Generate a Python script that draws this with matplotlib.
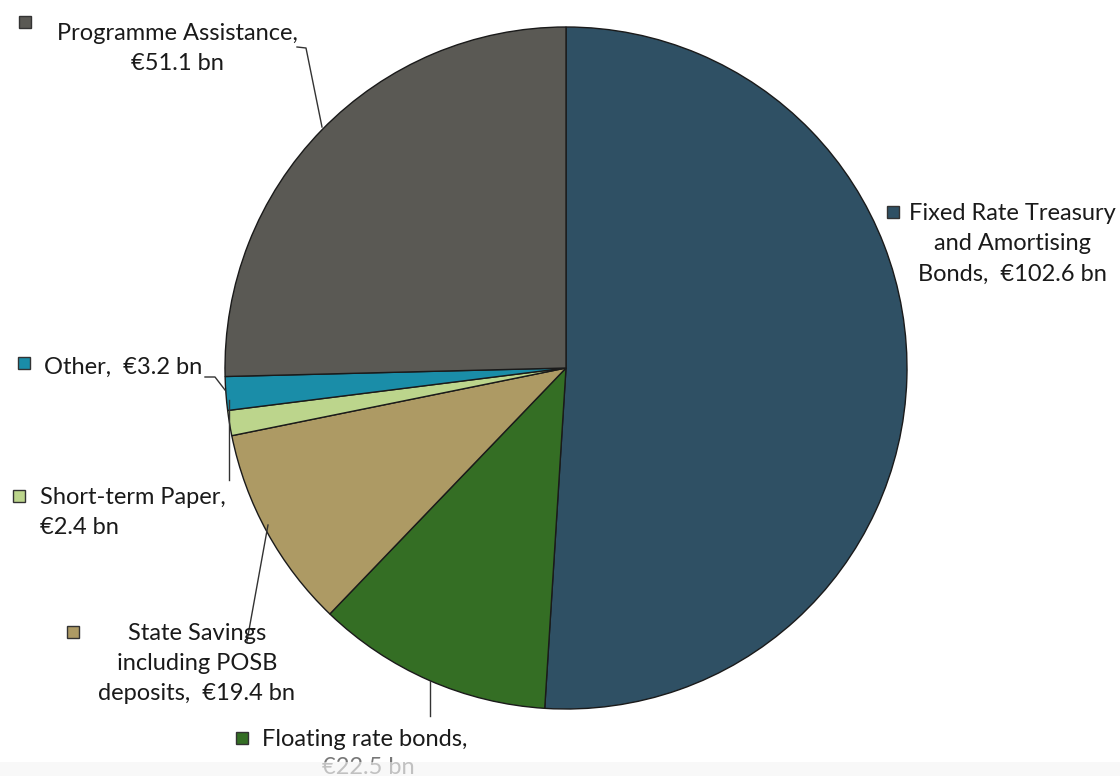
import matplotlib
matplotlib.use("Agg")
import matplotlib.pyplot as plt
from matplotlib.patches import Rectangle

categories = ["Fixed Rate Treasury and Amortising Bonds", "Floating rate bonds",
              "State Savings including POSB deposits", "Short-term Paper", "Other",
              "Programme Assistance"]
values = [102.6, 22.5, 19.4, 2.4, 3.2, 51.1]
colors = ["#2F5064", "#346E24", "#AD9A64", "#BCD58C", "#1A8DA8", "#5A5954"]

plt.rcParams['font.family'] = ['Lato', 'DejaVu Sans']

W, H = 1120, 776
fig = plt.figure(figsize=(W / 100, H / 100), dpi=100)
ax = fig.add_axes([0, 0, 1, 1])

def Y(y):
    return H - y

cx, cy, R = 566, 368, 341
ax.pie(values, colors=colors, startangle=90, counterclock=False,
       center=(cx, Y(cy)), radius=R, frame=True,
       wedgeprops=dict(edgecolor='#1a1a1a', linewidth=1.0))
ax.set_xlim(0, W)
ax.set_ylim(0, H)
ax.set_aspect('equal')
ax.axis('off')

fs = 17
tc = '#1a1a1a'

def marker(x, y, color, s=12):
    ax.add_patch(Rectangle((x - s / 2, Y(y) - s / 2), s, s, facecolor=color,
                           edgecolor='#333333', linewidth=1.0, zorder=5))

def text(x, y, s, ha='center', color=tc):
    ax.text(x, Y(y), s, ha=ha, va='center', fontsize=fs, color=color, zorder=5)

def line(pts):
    xs = [p[0] for p in pts]
    ys = [Y(p[1]) for p in pts]
    ax.plot(xs, ys, color='#333333', linewidth=1.0, zorder=4)

lbl = {c: f"{v} bn" for c, v in zip(categories, values)}

# Programme Assistance
marker(25, 22, colors[5])
text(177, 34, "Programme Assistance,")
text(177, 64, "€" + lbl[categories[5]])
line([(297, 47), (306, 48), (322, 127)])

# Fixed Rate
marker(893, 212, colors[0])
text(1012, 213, "Fixed Rate Treasury")
text(1012, 243, "and Amortising")
text(1012, 274, "Bonds,  €" + lbl[categories[0]])

# Other
marker(24, 363, colors[4])
text(44, 367, "Other,  €" + lbl[categories[4]], ha='left')
line([(205, 377), (215, 377), (225, 390)])

# Short-term Paper
marker(19, 496, colors[3])
text(40, 497, "Short-term Paper,", ha='left')
text(40, 527, "€" + lbl[categories[3]], ha='left')
line([(229, 400), (229, 480)])

# State Savings
marker(73, 632, colors[2])
text(197, 633, "State Savings")
text(197, 663, "including POSB")
text(197, 694, "deposits,  €" + lbl[categories[2]])
line([(268, 525), (247, 641)])

# Floating rate
marker(242, 738, colors[1])
text(262, 739, "Floating rate bonds,", ha='left')
text(368, 768, "€" + lbl[categories[1]], color='#777777')
line([(430, 681), (430, 716)])

ax.add_patch(Rectangle((0, 0), W, 14, facecolor='#f4f4f4', alpha=0.6,
                       edgecolor='none', zorder=6))

fig.savefig("out.png", dpi=100, facecolor='white')
